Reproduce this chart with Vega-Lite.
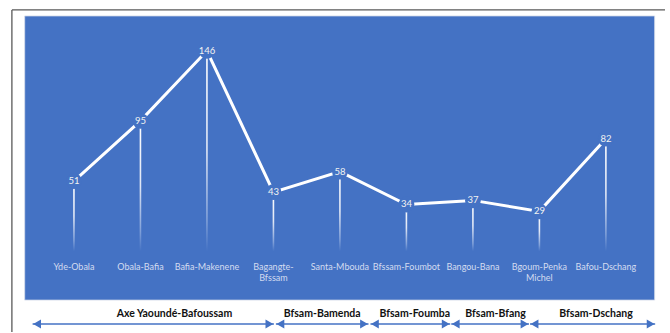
{
  "$schema": "https://vega.github.io/schema/vega-lite/v6.json",
  "width": 670,
  "height": 333,
  "padding": 0,
  "autosize": {"type": "fit", "contains": "padding"},
  "background": "#ffffff",
  "config": {"view": {"stroke": null}},
  "datasets": {
    "points": [
      {"segment": "Yde-Obala", "idx": 0, "value": 51},
      {"segment": "Obala-Bafia", "idx": 1, "value": 95},
      {"segment": "Bafia-Makenene", "idx": 2, "value": 146},
      {"segment": "Bagangte-\nBfssam", "idx": 3, "value": 43},
      {"segment": "Santa-Mbouda", "idx": 4, "value": 58},
      {"segment": "Bfssam-Foumbot", "idx": 5, "value": 34},
      {"segment": "Bangou-Bana", "idx": 6, "value": 37},
      {"segment": "Bgoum-Penka\nMichel", "idx": 7, "value": 29},
      {"segment": "Bafou-Dschang", "idx": 8, "value": 82}
    ],
    "groups": [
      {"group": "Axe Yaoundé-Bafoussam", "start": -0.622, "end": 3.007, "mid": 1.511},
      {"group": "Bfsam-Bamenda", "start": 3.037, "end": 4.43, "mid": 3.733},
      {"group": "Bfsam-Foumba", "start": 4.459, "end": 5.659, "mid": 5.126},
      {"group": "Bfsam-Bfang", "start": 5.674, "end": 6.844, "mid": 6.341},
      {"group": "Bfsam-Dschang", "start": 6.859, "end": 8.741, "mid": 7.852}
    ]
  },
  "layer": [
    {
      "data": {"values": [{}]},
      "mark": {"type": "rect", "color": "#4472C4", "stroke": "#d6dcea", "strokeWidth": 0.8},
      "encoding": {
        "x": {"datum": -0.7407, "type": "quantitative", "scale": {"domain": [-1.037, 8.8889], "nice": false, "zero": false}, "axis": null},
        "x2": {"datum": 8.7333},
        "y": {"datum": 171.43, "type": "quantitative", "scale": {"domain": [-58.93, 183.05], "nice": false, "zero": false}, "axis": null},
        "y2": {"datum": -35.68}
      }
    },
    {
      "data": {"values": [{}]},
      "mark": {"type": "rule", "color": "#595959", "strokeWidth": 1.3},
      "encoding": {
        "x": {"datum": -0.9333, "type": "quantitative", "scale": {"domain": [-1.037, 8.8889], "nice": false, "zero": false}, "axis": null},
        "x2": {"datum": 8.8889},
        "y": {"datum": 175.79, "type": "quantitative", "scale": {"domain": [-58.93, 183.05], "nice": false, "zero": false}, "axis": null}
      }
    },
    {
      "data": {"values": [{}]},
      "mark": {"type": "rule", "color": "#595959", "strokeWidth": 1.3},
      "encoding": {
        "x": {"datum": -0.9333, "type": "quantitative", "scale": {"domain": [-1.037, 8.8889], "nice": false, "zero": false}, "axis": null},
        "y": {"datum": 175.79, "type": "quantitative", "scale": {"domain": [-58.93, 183.05], "nice": false, "zero": false}, "axis": null},
        "y2": {"datum": -58.93}
      }
    },
    {
      "data": {"name": "points"},
      "mark": {"type": "bar", "width": 1.6, "orient": "vertical", "color": {"gradient": "linear", "x1": 0, "y1": 0, "x2": 0, "y2": 1, "stops": [{"offset": 0, "color": "#ffffff"}, {"offset": 0.5, "color": "#dfe6f5"}, {"offset": 0.85, "color": "#7f9fd8"}, {"offset": 1, "color": "#4472C4"}]}},
      "encoding": {
        "x": {"field": "idx", "type": "quantitative", "scale": {"domain": [-1.037, 8.8889], "nice": false, "zero": false}, "axis": null},
        "y": {"field": "value", "type": "quantitative", "scale": {"domain": [-58.93, 183.05], "nice": false, "zero": false}, "axis": null},
        "y2": {"datum": 0}
      }
    },
    {
      "data": {"name": "points"},
      "mark": {"type": "line", "color": "#ffffff", "strokeWidth": 3},
      "encoding": {
        "x": {"field": "idx", "type": "quantitative", "scale": {"domain": [-1.037, 8.8889], "nice": false, "zero": false}, "axis": null},
        "y": {"field": "value", "type": "quantitative", "scale": {"domain": [-58.93, 183.05], "nice": false, "zero": false}, "axis": null},
        "order": {"field": "idx"}
      }
    },
    {
      "data": {"name": "points"},
      "mark": {"type": "point", "shape": "circle", "filled": true, "color": "#4472C4", "opacity": 1, "size": 250},
      "encoding": {
        "x": {"field": "idx", "type": "quantitative", "scale": {"domain": [-1.037, 8.8889], "nice": false, "zero": false}, "axis": null},
        "y": {"field": "value", "type": "quantitative", "scale": {"domain": [-58.93, 183.05], "nice": false, "zero": false}, "axis": null}
      }
    },
    {
      "data": {"name": "points"},
      "mark": {"type": "text", "color": "#F2F2F2", "font": "Lato", "fontSize": 9.5, "baseline": "middle", "align": "center"},
      "encoding": {
        "x": {"field": "idx", "type": "quantitative", "scale": {"domain": [-1.037, 8.8889], "nice": false, "zero": false}, "axis": null},
        "y": {"field": "value", "type": "quantitative", "scale": {"domain": [-58.93, 183.05], "nice": false, "zero": false}, "axis": null},
        "text": {"field": "value"}
      }
    },
    {
      "data": {"name": "points"},
      "mark": {"type": "text", "color": "#D3DCF0", "font": "Lato", "fontSize": 9, "baseline": "top", "align": "center", "lineBreak": "\n", "lineHeight": 11},
      "encoding": {
        "x": {"field": "idx", "type": "quantitative", "scale": {"domain": [-1.037, 8.8889], "nice": false, "zero": false}, "axis": null},
        "y": {"datum": -8.8, "type": "quantitative", "scale": {"domain": [-58.93, 183.05], "nice": false, "zero": false}, "axis": null},
        "text": {"field": "segment"}
      }
    },
    {
      "data": {"name": "groups"},
      "mark": {"type": "rule", "color": "#4472C4", "strokeWidth": 1.5},
      "encoding": {
        "x": {"field": "start", "type": "quantitative", "scale": {"domain": [-1.037, 8.8889], "nice": false, "zero": false}, "axis": null},
        "x2": {"field": "end"},
        "y": {"datum": -53.12, "type": "quantitative", "scale": {"domain": [-58.93, 183.05], "nice": false, "zero": false}, "axis": null}
      }
    },
    {
      "data": {"name": "groups"},
      "mark": {"type": "point", "shape": "triangle-left", "filled": true, "color": "#4472C4", "opacity": 1, "size": 81, "xOffset": 4.5},
      "encoding": {
        "x": {"field": "start", "type": "quantitative", "scale": {"domain": [-1.037, 8.8889], "nice": false, "zero": false}, "axis": null},
        "y": {"datum": -53.12, "type": "quantitative", "scale": {"domain": [-58.93, 183.05], "nice": false, "zero": false}, "axis": null}
      }
    },
    {
      "data": {"name": "groups"},
      "mark": {"type": "point", "shape": "triangle-right", "filled": true, "color": "#4472C4", "opacity": 1, "size": 81, "xOffset": -4.5},
      "encoding": {
        "x": {"field": "end", "type": "quantitative", "scale": {"domain": [-1.037, 8.8889], "nice": false, "zero": false}, "axis": null},
        "y": {"datum": -53.12, "type": "quantitative", "scale": {"domain": [-58.93, 183.05], "nice": false, "zero": false}, "axis": null}
      }
    },
    {
      "data": {"name": "groups"},
      "mark": {"type": "text", "color": "#111111", "font": "Lato", "fontSize": 10.5, "fontWeight": "bold", "baseline": "middle", "align": "center"},
      "encoding": {
        "x": {"field": "mid", "type": "quantitative", "scale": {"domain": [-1.037, 8.8889], "nice": false, "zero": false}, "axis": null},
        "y": {"datum": -45.8, "type": "quantitative", "scale": {"domain": [-58.93, 183.05], "nice": false, "zero": false}, "axis": null},
        "text": {"field": "group"}
      }
    }
  ]
}
